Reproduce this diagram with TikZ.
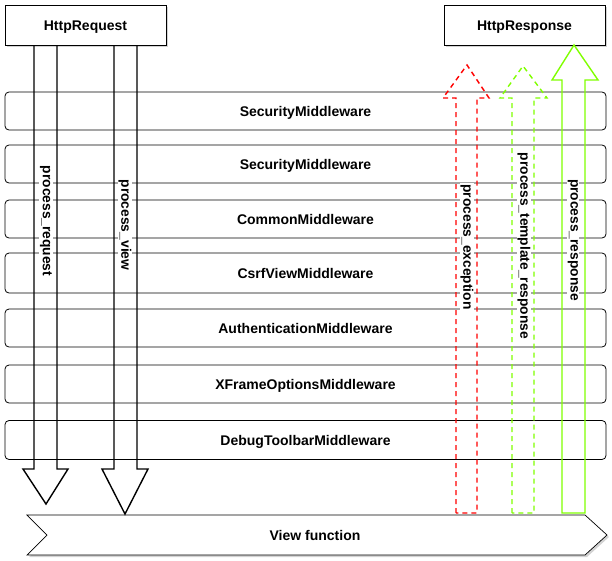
\documentclass[tikz,border=0pt]{standalone}
\usepackage{fontspec}
\setmainfont{Liberation Sans}
\usetikzlibrary{shadows}

\definecolor{lime}{RGB}{128,255,0}

\tikzset{
	box/.style={draw, fill=white, minimum width=161pt, minimum height=40pt, line width=0.7pt,
		drop shadow={shadow xshift=2pt, shadow yshift=-2pt, opacity=0.35}, font=\fontsize{14}{16}\selectfont\bfseries,
		text height=10pt, text depth=0pt},
	layer/.style={draw, rounded corners=4pt, minimum width=601pt, line width=0.8pt, font=\fontsize{14}{16}\selectfont\bfseries,
		text height=10pt, text depth=0pt},
	hook/.style={fill=white, inner sep=1pt, rotate=-90, font=\fontsize{13.8}{16}\selectfont\bfseries}
}

\begin{document}
\begin{tikzpicture}[x=1pt,y=-1pt]
	\useasboundingbox (0,0) rectangle (612,560);
	% middleware layers
	\node[layer, minimum height=38pt] (mw1) at (305.5,111) {SecurityMiddleware};
	\node[layer, minimum height=38pt] (mw2) at (305.5,164) {SecurityMiddleware};
	\node[layer, minimum height=38pt] (mw3) at (305.5,219) {CommonMiddleware};
	\node[layer, minimum height=40pt] (mw4) at (305.5,273) {CsrfViewMiddleware};
	\node[layer, minimum height=38pt] (mw5) at (305.5,328) {AuthenticationMiddleware};
	\node[layer, minimum height=38pt] (mw6) at (305.5,384) {XFrameOptionsMiddleware};
	\node[layer, minimum height=39pt] (mw7) at (305.5,440) {DebugToolbarMiddleware};
	% request and response
	\node[box] (req) at (85.5,25) {HttpRequest};
	\node[box] (resp) at (524.5,25) {HttpResponse};
	% view function
	\draw[line width=0.7pt, fill=white, drop shadow={shadow xshift=2pt, shadow yshift=-2pt, opacity=0.35}]
		(27,515) -- (585,515) -- (607,535) -- (585,555) -- (27,555) -- (47,535) -- cycle;
	\node[font=\fontsize{14}{16}\selectfont\bfseries, text height=10pt, text depth=0pt] (view) at (315,535) {View function};
	% down arrows
	\draw[line width=1.4pt] (34,45) -- (34,469) -- (23,469) -- (46,504) -- (68,469) -- (57,469) -- (57,45);
	\draw[line width=1.4pt] (114,45) -- (114,469) -- (102,469) -- (125,514) -- (148,469) -- (137,469) -- (137,45);
	% up arrows
	\draw[red, dashed, dash pattern=on 5pt off 4pt, line width=1.4pt]
		(456,513) -- (456,98) -- (443,98) -- (467,65) -- (489,98) -- (477,98) -- (477,513) -- cycle;
	\draw[lime, dashed, dash pattern=on 5pt off 4pt, line width=1.4pt]
		(512,513) -- (512,98) -- (500,98) -- (523,66) -- (547,98) -- (534,98) -- (534,513) -- cycle;
	\draw[lime, line width=1.4pt]
		(562,513) -- (562,80) -- (552,80) -- (574,45) -- (598,80) -- (585,80) -- (585,513) -- cycle;
	% hook labels
	\node[hook] (preq) at (46,221) {process\_request};
	\node[hook] (pview) at (125,225) {process\_view};
	\node[hook] (pexc) at (467,247) {process\_exception};
	\node[hook] (ptpl) at (524,246) {process\_template\_response};
	\node[hook] (presp) at (573,240) {process\_response};
\end{tikzpicture}
\end{document}
